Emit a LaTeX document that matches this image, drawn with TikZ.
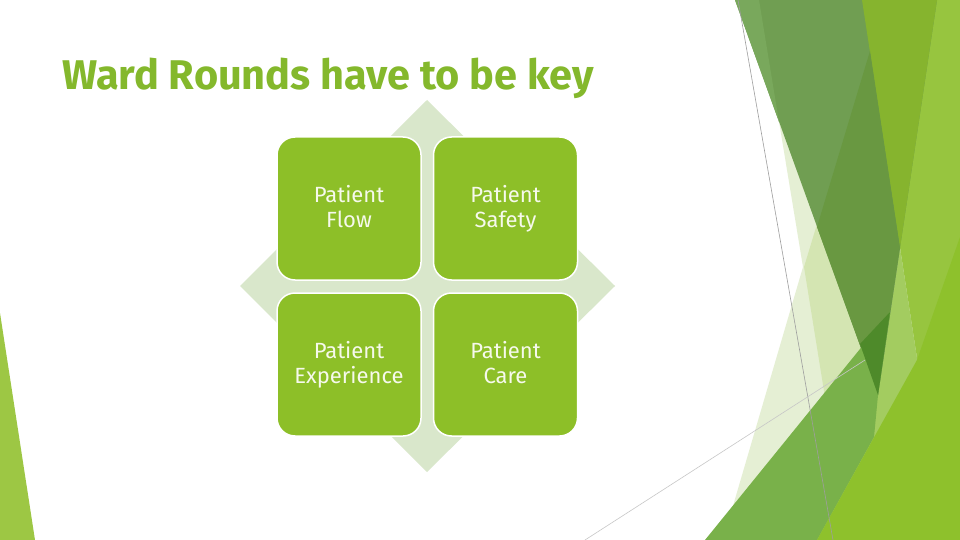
\documentclass[tikz,border=0pt]{standalone}
\usepackage{fontspec}
\setmainfont{Fira Sans}
\definecolor{paleA}{HTML}{E5EFD4}
\definecolor{paleB}{HTML}{D4E5B2}
\definecolor{lightR}{HTML}{97C53F}
\definecolor{sliver}{HTML}{A3CC60}
\definecolor{Amed}{HTML}{709E52}
\definecolor{Alight}{HTML}{79A85C}
\definecolor{Ayg}{HTML}{86B42E}
\definecolor{Adark}{HTML}{699841}
\definecolor{tipc}{HTML}{4E8A2A}
\definecolor{Mc}{HTML}{79B14A}
\definecolor{YGc}{HTML}{8EC12C}
\definecolor{stripc}{HTML}{9DC744}
\definecolor{titlegreen}{HTML}{84B82C}
\definecolor{boxgreen}{HTML}{8DBF28}
\definecolor{diamc}{HTML}{D9E7CB}
\definecolor{boxtext}{HTML}{F6F9EC}
\newcommand\mytopstrut{\rule[-7.5pt]{0pt}{28pt}}
\tikzset{
  cell/.style={draw=white, line width=1.5pt, fill=boxgreen, rounded corners=18pt,
    minimum width=144pt, minimum height=143pt, align=center, text=boxtext,
    font=\fontsize{22}{25}\selectfont, inner sep=0pt},
  thinline/.style={line width=0.6pt}
}
\begin{document}
\begin{tikzpicture}[x=1pt,y=-1pt]
\useasboundingbox (0,0) rectangle (960,540);
\fill[white] (0,0) rectangle (960,540);
% right decoration
\fill[paleA] (759,0) -- (803,267) -- (723,540) -- (960,540) -- (960,0) -- cycle;
\fill[paleB] (885,0) -- (804,267) -- (848,540) -- (960,540) -- (960,0) -- cycle;
\fill[lightR] (862,0) -- (960,0) -- (960,540) -- (945,540) -- cycle;
\fill[sliver] (900,248) -- (945,540) -- (800,540) -- (878,395) -- cycle;
\fill[Amed] (735,0) -- (937,0) -- (878,395) -- cycle;
\fill[Alight] (735,0) -- (759,0) -- (779,122) -- cycle;
\fill[Ayg] (862,0) -- (937,0) -- (900,248) -- cycle;
\fill[Adark] (870,51) -- (817,227) -- (878,395) -- (900,248) -- cycle;
\fill[Mc] (705,540) -- (890,312) -- (878,395) -- (874,437) -- (817,540) -- cycle;
\fill[tipc] (860,344) -- (890,312) -- (878,395) -- cycle;
\fill[YGc] (817,540) -- (917,360) -- (960,237) -- (960,540) -- cycle;
% left strip
\fill[stripc] (0,313) -- (35,540) -- (0,540) -- cycle;
% thin lines
\coordinate (la) at (738,0);
\coordinate (lb) at (833,540);
\coordinate (lc) at (585,540);
\coordinate (ld) at (865,360);
\draw[thinline, draw=black!38] (la) -- (lb);
\draw[thinline, draw=black!22] (lc) -- (ld);
% title
\node[anchor=base west, inner sep=0pt, text=titlegreen,
  font=\fontsize{41.5}{45}\selectfont\bfseries] (title) at (62,90) {Ward Rounds have to be key};
% diamond
\fill[diamc] (427,100) -- (615,286) -- (427,472) -- (240,286) -- cycle;
% cells
\node[cell] (flow) at (349,208.5) {\mytopstrut Patient\\\strut Flow};
\node[cell] (safety) at (505.5,208.5) {\mytopstrut Patient\\\strut Safety};
\node[cell] (exp) at (349,364.5) {\mytopstrut Patient\\\strut Experience};
\node[cell] (care) at (505.5,364.5) {\mytopstrut Patient\\\strut Care};
\end{tikzpicture}
\end{document}
